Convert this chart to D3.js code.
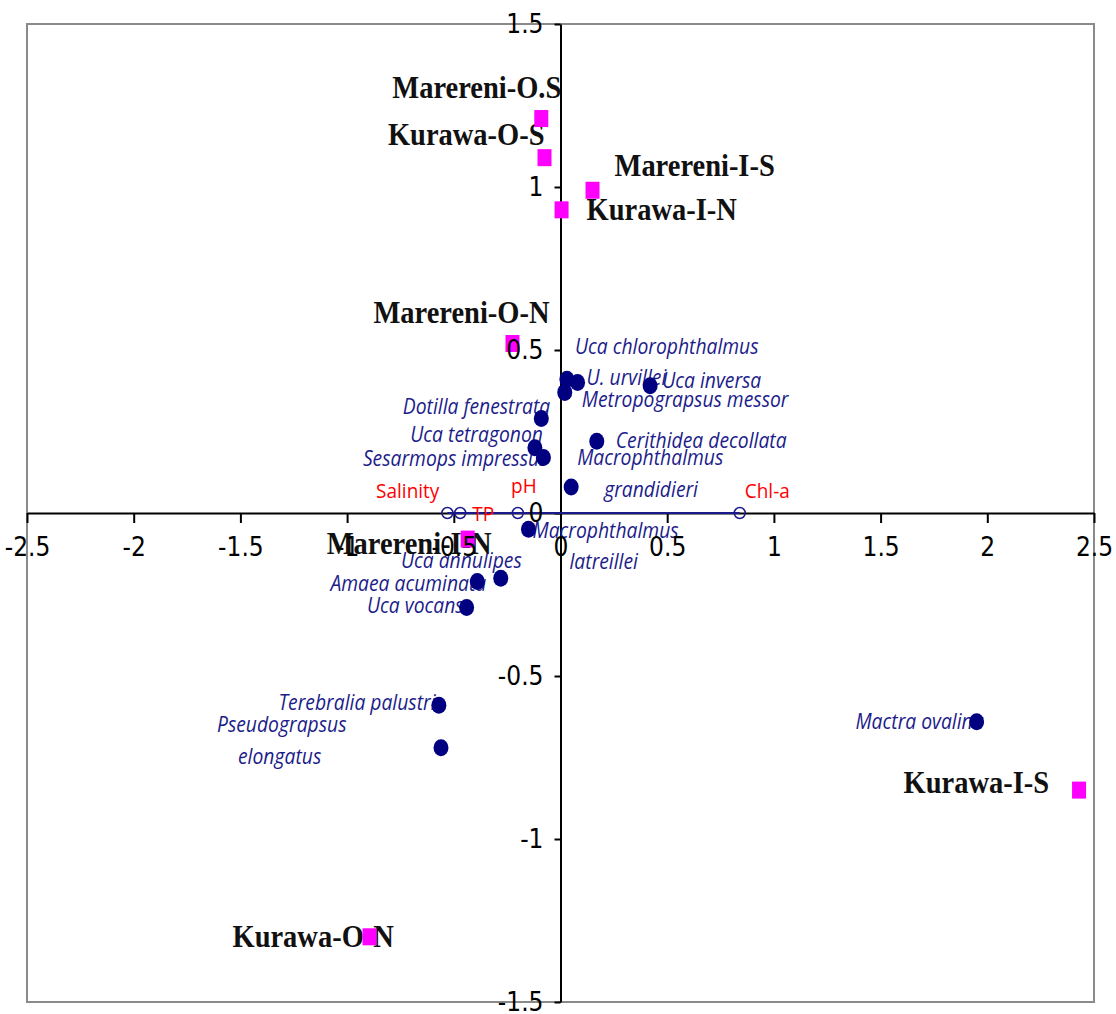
<!DOCTYPE html>
<html>
<head>
<meta charset="utf-8">
<script src="https://cdnjs.cloudflare.com/ajax/libs/d3/7.8.5/d3.min.js"></script>
<style>
  body { margin: 0; background: #fff; }
</style>
</head>
<body>
<div id="graph"></div>
<script>
// site scores (magenta squares)
var siteNames = ["Marereni-O.S", "Kurawa-O-S", "Marereni-I-S", "Kurawa-I-N",
                 "Marereni-O-N", "Marereni-I-N", "Kurawa-I-S", "Kurawa-O-N"];
var siteX = [-0.09, -0.075, 0.15, 0.005, -0.225, -0.435, 2.43, -0.895];
var siteY = [1.21, 1.09, 0.99, 0.93, 0.52, -0.08, -0.85, -1.30];

// species scores (navy dots)
var speciesNames = ["Uca chlorophthalmus", "U. urvillei", "Metropograpsus messor", "Uca inversa",
                    "Dotilla fenestrata", "Uca tetragonon", "Sesarmops impressus", "Cerithidea decollata",
                    "Macrophthalmus grandidieri", "Macrophthalmus latreillei", "Uca annulipes",
                    "Amaea acuminata", "Uca vocans", "Terebralia palustris", "Pseudograpsus elongatus",
                    "Mactra ovalina"];
var speciesX = [0.03, 0.08, 0.02, 0.42, -0.09, -0.12, -0.08, 0.17, 0.05, -0.15, -0.28, -0.39, -0.44, -0.57, -0.56, 1.95];
var speciesY = [0.41, 0.40, 0.37, 0.39, 0.29, 0.20, 0.17, 0.22, 0.08, -0.05, -0.20, -0.21, -0.29, -0.59, -0.72, -0.64];

// environmental variables (open circles)
var envNames = ["Salinity", "TP", "pH", "Chl-a"];
var envX = [-0.53, -0.47, -0.20, 0.84];
var envY = [0, 0, 0, 0];

var xTicks = [-2.5, -2, -1.5, -1, -0.5, 0, 0.5, 1, 1.5, 2, 2.5];
var yTicks = [-1.5, -1, -0.5, 0, 0.5, 1, 1.5];

drawBiplot();

function drawBiplot() {
  var width = 1116, height = 1014;
  var frame = {left: 27, top: 24, right: 1094, bottom: 1002};

  var x = d3.scaleLinear().domain([-2.5, 2.5]).range([frame.left, frame.right]);
  var y = d3.scaleLinear().domain([-1.5, 1.5]).range([frame.bottom, frame.top]);

  // label placement, px offsets from the mark
  var siteLab = {
    "Marereni-O.S": ["end", 20, -21],
    "Kurawa-O-S":   ["end", 0, -13],
    "Marereni-I-S": ["start", 22, -14],
    "Kurawa-I-N":   ["start", 25, 10],
    "Marereni-O-N": ["end", 37, -20],
    "Marereni-I-N": ["end", 24, 15],
    "Kurawa-I-S":   ["end", -30, 3],
    "Kurawa-O-N":   ["start", -137, 10]
  };
  var spLab = {
    "Uca chlorophthalmus":        [["start", 8, -25]],
    "U. urvillei":                [["start", 9, 2]],
    "Metropograpsus messor":      [["start", 17, 15]],
    "Uca inversa":                [["start", 12, 2]],
    "Dotilla fenestrata":         [["end", 9, -4]],
    "Uca tetragonon":             [["end", 8, -6]],
    "Sesarmops impressus":        [["end", 4, 8]],
    "Cerithidea decollata":       [["start", 19, 7]],
    "Macrophthalmus grandidieri": [["start", 6, -22, "Macrophthalmus"], ["start", 33, 10, "grandidieri"]],
    "Macrophthalmus latreillei":  [["start", 4, 9, "Macrophthalmus"], ["start", 41, 40, "latreillei"]],
    "Uca annulipes":              [["end", 21, -10]],
    "Amaea acuminata":            [["end", 9, 10]],
    "Uca vocans":                 [["end", -3, 5]],
    "Terebralia palustris":       [["end", 5, 5]],
    "Pseudograpsus elongatus":    [["start", -224, -16, "Pseudograpsus"], ["start", -203, 16, "elongatus"]],
    "Mactra ovalina":             [["end", 7, 7]]
  };
  var envLab = {
    "Salinity": ["end", -8, -15],
    "TP":       ["start", 12, 8],
    "pH":       ["middle", 6, -20],
    "Chl-a":    ["start", 5, -15]
  };

  var svg = d3.select("#graph")
    .append("svg")
    .attr("width", width)
    .attr("height", height);

  svg.append("rect")
    .attr("width", width).attr("height", height)
    .attr("fill", "#fff");

  // plot frame
  svg.append("rect")
    .attr("x", frame.left).attr("y", frame.top)
    .attr("width", frame.right - frame.left)
    .attr("height", frame.bottom - frame.top)
    .attr("fill", "none")
    .attr("stroke", "#8a8a8a")
    .attr("stroke-width", 2);

  var fmt = function (d) { return String(d); };

  // axis lines and ticks (labels are added later on top)
  svg.append("g")
    .attr("transform", "translate(0," + y(0) + ")")
    .call(d3.axisBottom(x).tickValues(xTicks).tickSize(10).tickSizeOuter(0).tickFormat(""));
  svg.append("g")
    .attr("transform", "translate(" + x(0) + ",0)")
    .call(d3.axisLeft(y).tickValues(yTicks).tickSize(6).tickSizeOuter(0).tickFormat(""));
  svg.selectAll(".domain, .tick line")
    .attr("stroke", "#000")
    .attr("stroke-width", 2);

  // line through the environmental variables
  svg.append("line")
    .attr("x1", x(d3.min(envX))).attr("x2", x(d3.max(envX)))
    .attr("y1", y(0)).attr("y2", y(0))
    .attr("stroke", "#1a1a8c")
    .attr("stroke-width", 2);

  function addText(g, tx, ty, anchor, txt, sx) {
    return g.append("text")
      .attr("transform", "translate(" + tx + "," + ty + ") scale(" + sx + ",1)")
      .attr("text-anchor", anchor)
      .text(txt);
  }

  // species labels
  var spText = svg.append("g")
    .attr("font-family", "'Open Sans', 'DejaVu Sans', sans-serif")
    .attr("font-style", "italic")
    .attr("font-size", 21)
    .attr("fill", "#1c1c8a");
  speciesNames.forEach(function (n, i) {
    spLab[n].forEach(function (l) {
      addText(spText, x(speciesX[i]) + l[1], y(speciesY[i]) + l[2], l[0], l[3] || n, 0.92);
    });
  });

  // env labels
  var envText = svg.append("g")
    .attr("font-family", "'Open Sans', 'DejaVu Sans', sans-serif")
    .attr("font-size", 20)
    .attr("fill", "#ff0000");
  envNames.forEach(function (n, i) {
    var l = envLab[n];
    addText(envText, x(envX[i]) + l[1], y(envY[i]) + l[2], l[0], n, 0.95);
  });

  // site labels
  var siteText = svg.append("g")
    .attr("font-family", "'Liberation Serif', 'DejaVu Serif', serif")
    .attr("font-weight", "bold")
    .attr("font-size", 32)
    .attr("fill", "#111");
  siteNames.forEach(function (n, i) {
    var l = siteLab[n];
    addText(siteText, x(siteX[i]) + l[1], y(siteY[i]) + l[2], l[0], n, 0.89);
  });

  // env points
  svg.selectAll("circle.env")
    .data(envNames)
    .enter()
    .append("circle")
    .attr("class", "env")
    .attr("cx", function (d, i) { return x(envX[i]); })
    .attr("cy", function (d, i) { return y(envY[i]); })
    .attr("r", 5.5)
    .attr("fill", "none")
    .attr("stroke", "#1a1a8c")
    .attr("stroke-width", 1.5);

  // species points
  svg.selectAll("ellipse.sp")
    .data(speciesNames)
    .enter()
    .append("ellipse")
    .attr("class", "sp")
    .attr("cx", function (d, i) { return x(speciesX[i]); })
    .attr("cy", function (d, i) { return y(speciesY[i]); })
    .attr("rx", 7.5)
    .attr("ry", 8.5)
    .attr("fill", "#000080");

  // site points
  svg.selectAll("rect.site")
    .data(siteNames)
    .enter()
    .append("rect")
    .attr("class", "site")
    .attr("x", function (d, i) { return x(siteX[i]) - 7; })
    .attr("y", function (d, i) { return y(siteY[i]) - 8.5; })
    .attr("width", 14)
    .attr("height", 17)
    .attr("fill", "#ff00ff");

  // tick labels on top
  svg.append("g")
    .attr("transform", "translate(0," + y(0) + ")")
    .call(d3.axisBottom(x).tickValues(xTicks).tickSize(10).tickPadding(15).tickFormat(fmt))
    .call(function (g) { g.select(".domain").remove(); g.selectAll(".tick line").remove(); });
  svg.append("g")
    .attr("transform", "translate(" + x(0) + ",0)")
    .call(d3.axisLeft(y).tickValues(yTicks).tickSize(6).tickPadding(11).tickFormat(fmt))
    .call(function (g) { g.select(".domain").remove(); g.selectAll(".tick line").remove(); });
  svg.selectAll(".tick text")
    .attr("font-family", "'Liberation Sans Narrow', 'DejaVu Sans Condensed', 'Arial Narrow', sans-serif")
    .attr("font-size", 26)
    .attr("fill", "#000");
}
</script>
</body>
</html>
